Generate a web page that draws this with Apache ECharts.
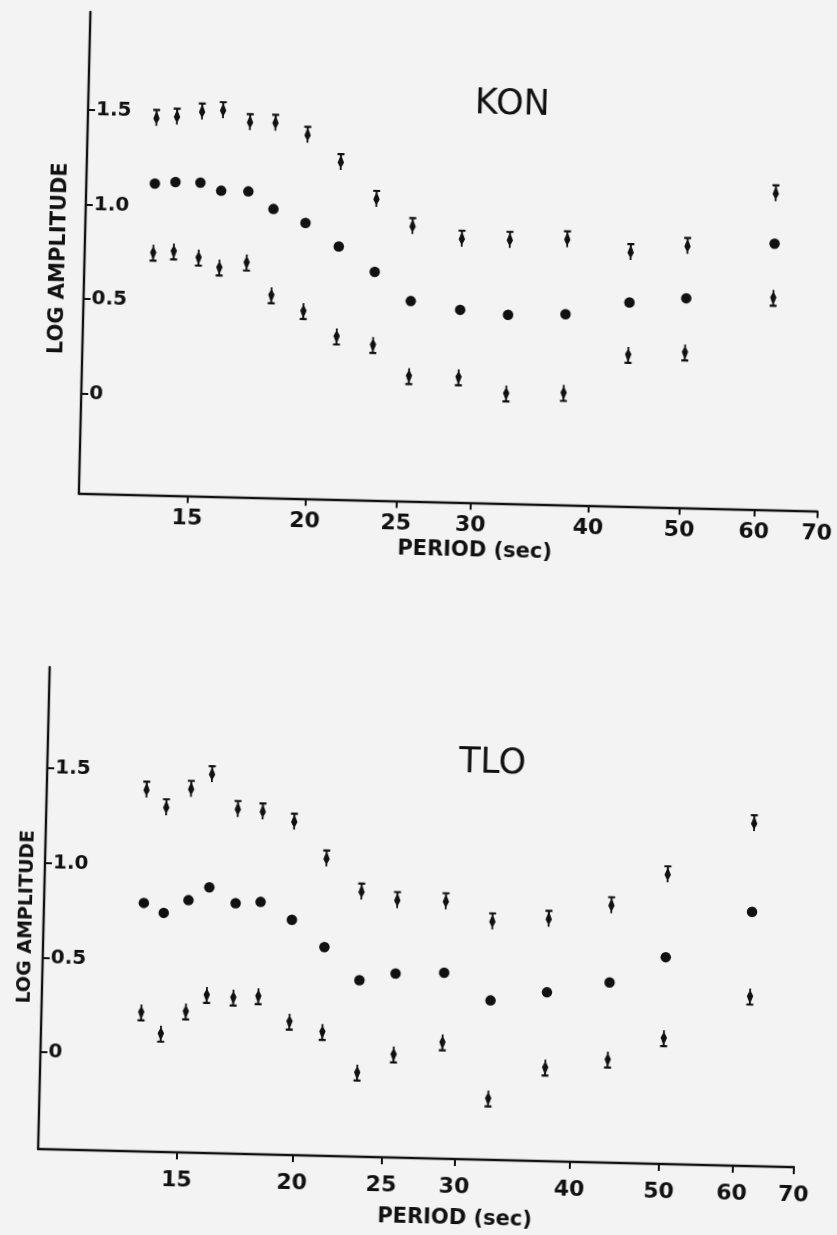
<!DOCTYPE html>
<html>
<head>
<meta charset="utf-8">
<script src="https://cdn.jsdelivr.net/npm/echarts@6/dist/echarts.min.js"></script>
<style>
  html, body { margin: 0; padding: 0; background: #f3f3f3; overflow: hidden; }
  #chart { width: 837px; height: 1235px; transform: rotate(1.375deg); transform-origin: 418px 617px; }
</style>
</head>
<body>
<div id="chart"></div>
<script>
// Periods (s) of the spectral estimates, common to both stations
const periods = [13.6, 14.3, 15.2, 16.0, 17.1, 18.2, 19.7, 21.4, 23.4, 25.6, 28.9, 32.5, 37.4, 43.7, 50.2, 62.1];

// Axis ticks
const periodTicks = [15, 20, 25, 30, 40, 50, 60, 70];
const ampTicks = [0, 0.5, 1.0, 1.5];

// KON: log amplitude estimate with upper and lower bounds
const konMean  = [1.12, 1.13, 1.13, 1.09, 1.09, 1.00, 0.93, 0.81, 0.68, 0.53, 0.49, 0.47, 0.48, 0.55, 0.58, 0.88];
const konUpper = [1.47, 1.48, 1.51, 1.52, 1.46, 1.46, 1.40, 1.26, 1.07, 0.93, 0.87, 0.87, 0.88, 0.82, 0.86, 1.15];
const konLower = [0.75, 0.76, 0.73, 0.68, 0.71, 0.54, 0.46, 0.33, 0.29, 0.13, 0.13, 0.05, 0.06, 0.27, 0.29, 0.59];

// TLO: log amplitude estimate with upper and lower bounds
const tloMean  = [0.80, 0.75, 0.82, 0.89, 0.81, 0.82, 0.73, 0.59, 0.42, 0.46, 0.47, 0.33, 0.38, 0.44, 0.58, 0.83];
const tloUpper = [1.40, 1.31, 1.41, 1.49, 1.31, 1.30, 1.25, 1.06, 0.89, 0.85, 0.85, 0.75, 0.77, 0.85, 1.02, 1.30];
const tloLower = [0.22, 0.11, 0.23, 0.32, 0.31, 0.32, 0.19, 0.14, -0.07, 0.03, 0.10, -0.19, -0.02, 0.03, 0.15, 0.38];

// Axis extents of the two panels
const konPeriodRange = [11.5, 70];
const konAmpRange = [-0.53, 2.02];
const tloPeriodRange = [10.6, 70];
const tloAmpRange = [-0.51, 2.03];

const INK = '#111';
const FONT = 'DejaVu Sans';

// Bound markers: a cap bar with a solid tapered body, pointing toward the estimate
const upperMark = 'path://M0,0H7V2.2H4.5V4L6.7,9.6L4.4,14V17H2.6V14L0.3,9.6L2.5,4V2.2H0Z';
const lowerMark = 'path://M0,17H7V14.8H4.5V13L6.7,7.4L4.4,3V0H2.6V3L0.3,7.4L2.5,13V14.8H0Z';

const pts = vals => periods.map((p, i) => [Math.log10(p), vals[i]]);

function xAxisFor(gridIndex, range, labelMargin) {
  const ticks = periodTicks.map(p => Math.log10(p));
  return {
    type: 'value', gridIndex,
    min: Math.log10(range[0]), max: Math.log10(range[1]),
    axisLine: { show: true, onZero: false, lineStyle: { color: INK, width: 2.4 } },
    axisTick: { show: true, customValues: ticks, length: 7, lineStyle: { color: INK, width: 2 } },
    axisLabel: {
      customValues: ticks, showMinLabel: true, showMaxLabel: true,
      formatter: v => String(Math.round(Math.pow(10, v))),
      color: INK, fontFamily: FONT, fontWeight: 'bold', fontSize: 22, margin: labelMargin
    },
    splitLine: { show: false }
  };
}

function yAxisFor(gridIndex, range) {
  return {
    type: 'value', gridIndex,
    min: range[0], max: range[1],
    axisLine: { show: true, onZero: false, lineStyle: { color: INK, width: 2.4 } },
    axisTick: { show: true, inside: true, customValues: ampTicks, length: 7, lineStyle: { color: INK, width: 2 } },
    axisLabel: {
      inside: true, customValues: ampTicks, showMinLabel: true, showMaxLabel: true,
      formatter: v => (v === 0 ? '0' : v.toFixed(1)),
      color: INK, fontFamily: FONT, fontWeight: 'bold', fontSize: 20, margin: 8
    },
    splitLine: { show: false }
  };
}

function markSeries(axisIndex, vals, symbol, size) {
  return {
    type: 'scatter', xAxisIndex: axisIndex, yAxisIndex: axisIndex,
    data: pts(vals), symbol, symbolSize: size,
    itemStyle: { color: INK, opacity: 1 },
    silent: true, animation: false
  };
}

function label(text, x, y, size, weight, rotation) {
  return {
    type: 'text', x, y, rotation: rotation || 0, silent: true,
    style: { text, fill: INK, font: `${weight} ${size}px "${FONT}"`, align: 'center', verticalAlign: 'middle' }
  };
}

const chart = echarts.init(document.getElementById('chart'), null, { renderer: 'canvas' });
chart.setOption({
  backgroundColor: 'transparent',
  animation: false,
  grid: [
    { left: 76, top: 20, width: 738.5, height: 481.5 },
    { left: 51, top: 676, width: 756, height: 482 }
  ],
  xAxis: [xAxisFor(0, konPeriodRange, 12), xAxisFor(1, tloPeriodRange, 17)],
  yAxis: [yAxisFor(0, konAmpRange), yAxisFor(1, tloAmpRange)],
  series: [
    markSeries(0, konUpper, upperMark, [7, 17]),
    markSeries(0, konMean, 'circle', 10.5),
    markSeries(0, konLower, lowerMark, [7, 17]),
    markSeries(1, tloUpper, upperMark, [7, 17]),
    markSeries(1, tloMean, 'circle', 10.5),
    markSeries(1, tloLower, lowerMark, [7, 17])
  ],
  graphic: [
    label('KON', 500, 103, 35, 'normal'),
    label('TLO', 496, 762, 35, 'normal'),
    label('LOG AMPLITUDE', 51, 267, 21, 'bold', Math.PI / 2),
    label('LOG AMPLITUDE', 34, 926, 19, 'bold', Math.PI / 2),
    label('PERIOD (sec)', 473, 550, 21, 'bold'),
    label('PERIOD (sec)', 469, 1218, 21, 'bold')
  ]
});
</script>
</body>
</html>
